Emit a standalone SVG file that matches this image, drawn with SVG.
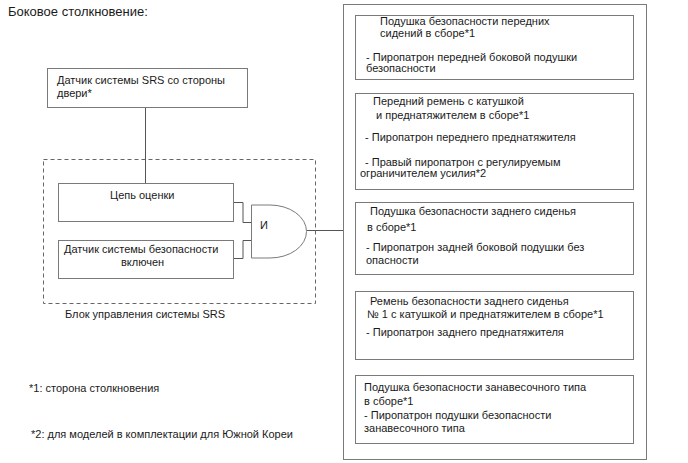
<svg xmlns="http://www.w3.org/2000/svg" width="688" height="463" viewBox="0 0 688 463">
<style>
text{font-family:"Liberation Sans",Arial,sans-serif;font-size:11px;fill:#1a1a1a}
.t{font-size:13px}
.b{fill:#fff;stroke:#7a7a7a;stroke-width:1}
.l{fill:none;stroke:#555;stroke-width:1}
.d{fill:none;stroke:#666;stroke-width:1;stroke-dasharray:4,3}
</style>
<rect width="688" height="463" fill="#fff"/>
<text class="t" x="8" y="16">Боковое столкновение:</text>
<g id="connectors">
<path class="l" d="M145.5 107V183"/>
<path class="l" d="M233 202.5H243V222.5H251"/>
<path class="l" d="M233 258.5H243V240.5H251"/>
<path class="l" d="M307 230.5H343"/>
</g>
<g id="ecu">
<rect class="d" x="43.5" y="159.5" width="272" height="144"/>
<text x="65" y="318">Блок управления системы SRS</text>
</g>
<g id="door-sensor">
<rect class="b" x="47.5" y="68.5" width="200" height="39"/>
<text x="57" y="84">Датчик системы SRS со стороны</text>
<text x="57" y="97">двери*</text>
</g>
<g id="eval">
<rect class="b" x="58.5" y="183.5" width="175" height="38"/>
<text x="110" y="199">Цепь оценки</text>
</g>
<g id="belt-sensor">
<rect class="b" x="58.5" y="240.5" width="175" height="38"/>
<text x="64" y="253">Датчик системы безопасности</text>
<text x="121" y="265.5">включен</text>
</g>
<g id="and-gate">
<path class="b" d="M251.5 205H270A36.5 26.5 0 0 1 270 258H251.5Z" stroke="#555"/>
<text x="260" y="229">И</text>
</g>
<g id="outputs">
<rect class="b" x="343.5" y="4.5" width="303" height="455"/>
</g>
<g id="front-airbag">
<rect class="b" x="355.5" y="15.5" width="278" height="64"/>
<text x="380" y="24.5">Подушка безопасности передних</text>
<text x="380" y="37">сидений в сборе*1</text>
<text x="366" y="60.5">- Пиропатрон передней боковой подушки</text>
<text x="366" y="72">безопасности</text>
</g>
<g id="front-belt">
<rect class="b" x="355.5" y="93.5" width="278" height="96"/>
<text x="373" y="104.5">Передний ремень с катушкой</text>
<text x="376" y="119">и преднатяжителем в сборе*1</text>
<text x="365" y="140.5">- Пиропатрон переднего преднатяжителя</text>
<text x="365" y="165.5">- Правый пиропатрон с регулируемым</text>
<text x="360" y="177">ограничителем усилия*2</text>
</g>
<g id="rear-airbag">
<rect class="b" x="355.5" y="202.5" width="278" height="72"/>
<text x="370" y="215">Подушка безопасности заднего сиденья</text>
<text x="367" y="230.5">в сборе*1</text>
<text x="366" y="250.5">- Пиропатрон задней боковой подушки без</text>
<text x="366" y="264">опасности</text>
</g>
<g id="rear-belt">
<rect class="b" x="355.5" y="291.5" width="278" height="68"/>
<text x="370" y="305">Ремень безопасности заднего сиденья</text>
<text x="367" y="317.5">№ 1 с катушкой и преднатяжителем в сборе*1</text>
<text x="366" y="335.5">- Пиропатрон заднего преднатяжителя</text>
</g>
<g id="curtain-airbag">
<rect class="b" x="355.5" y="375.5" width="278" height="68"/>
<text x="364" y="390.5">Подушка безопасности занавесочного типа</text>
<text x="364" y="405">в сборе*1</text>
<text x="364" y="419">- Пиропатрон подушки безопасности</text>
<text x="364" y="432">занавесочного типа</text>
</g>
<g id="notes">
<text x="29" y="392">*1: сторона столкновения</text>
<text x="31" y="438">*2: для моделей в комплектации для Южной Кореи</text>
</g>
</svg>
